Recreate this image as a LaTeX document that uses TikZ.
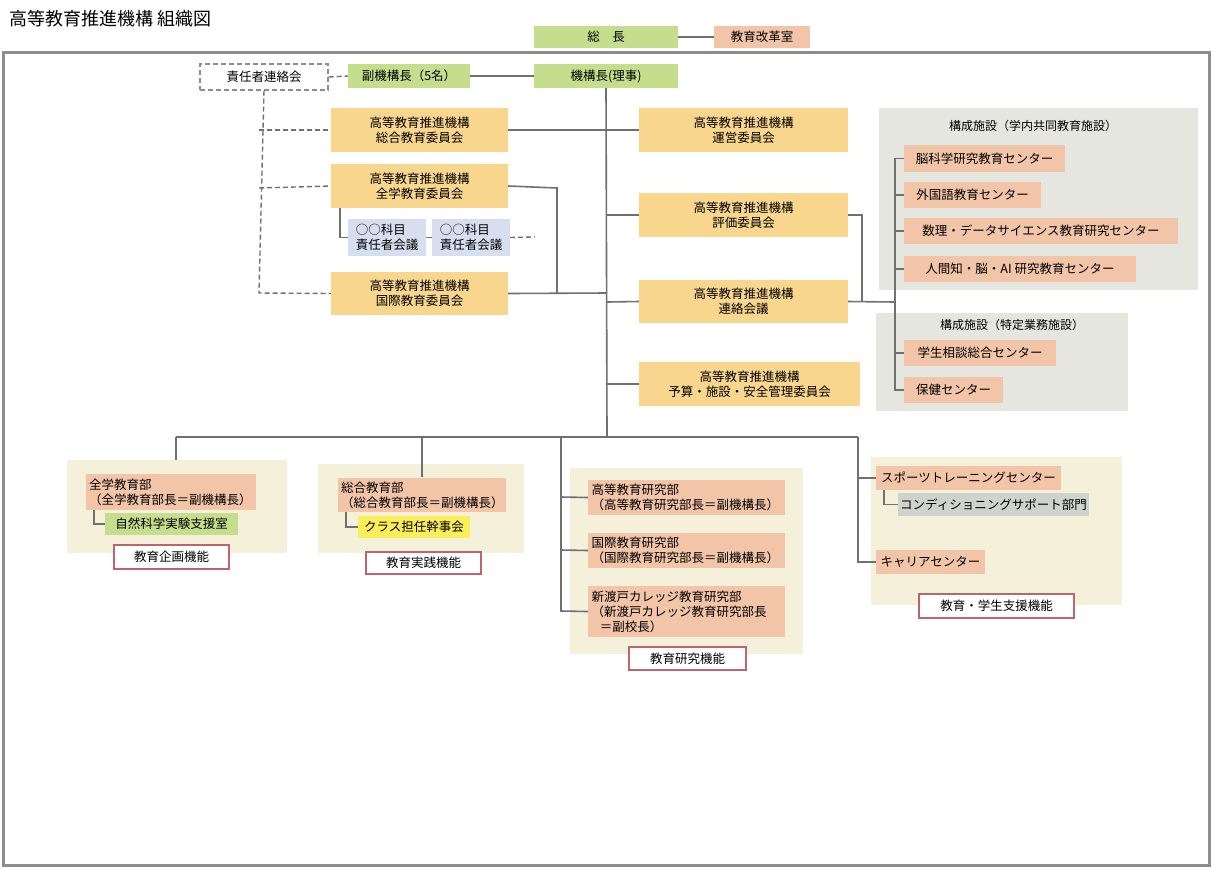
\documentclass[tikz,border=0pt]{standalone}
\usepackage{fontspec}
\setmainfont{Noto Sans CJK JP}
\begin{document}
\definecolor{cgreen}{RGB}{197,222,142}
\definecolor{corange}{RGB}{248,214,142}
\definecolor{csalmon}{RGB}{242,197,168}
\definecolor{cblue}{RGB}{214,222,240}
\definecolor{cgray}{RGB}{230,230,224}
\definecolor{ccream}{RGB}{245,240,218}
\definecolor{cyellow}{RGB}{250,238,90}
\definecolor{cgbox}{RGB}{208,210,206}
\definecolor{cline}{RGB}{112,112,112}
\definecolor{cmaroon}{RGB}{190,100,110}
\newcommand\R[7]{\node[#2, minimum width={#5pt-#3pt}, minimum height={#6pt-#4pt}, inner sep=0pt] (#1) at ({(#3+#5)/2},{(#4+#6)/2}) {#7};}
\begin{tikzpicture}[x=1pt,y=-1pt,
  every node/.style={font=\fontsize{12.5}{15}\selectfont},
  ln/.style={draw=cline, line width=1.6pt},
  dl/.style={draw=cline, line width=1.4pt, dashed, dash pattern=on 5pt off 3pt},
  gr/.style={fill=cgreen},
  og/.style={fill=corange, align=center},
  sa/.style={fill=csalmon},
  bl/.style={fill=cblue, align=left},
  lab/.style={draw=cmaroon, line width=1.2pt, fill=white},
  pan/.style={fill=cgray},
  cr/.style={fill=ccream}]
\useasboundingbox (0,0) rectangle (1212,868);
\fill[white] (0,0) rectangle (1212,868);
\node[anchor=west, font=\fontsize{18}{20}\selectfont] (title) at (6,19) {高等教育推進機構 組織図};
\draw[draw=cline!80, line width=3pt] (3,52) rectangle (1209,865);
% panels
\fill[pan] (879,108) rectangle (1198,290);
\fill[pan] (876,313) rectangle (1128,411);
\fill[cr] (67,460) rectangle (287,553);
\fill[cr] (318,464) rectangle (524,553);
\fill[cr] (570,468) rectangle (803,654);
\fill[cr] (871,457) rectangle (1122,605);
% top
\R{socho}{gr}{534}{26}{678}{48}{総\quad 長}
\R{kaikaku}{sa}{714}{26}{810}{48}{教育改革室}
\R{kiko}{gr}{534}{64}{678}{88}{機構長(理事)}
\R{fuku}{gr}{348}{64}{470}{88}{副機構長（5名）}
\R{sekinin}{draw=cline!80, line width=1.4pt, dash pattern=on 5pt off 3pt}{200}{64}{328}{90}{責任者連絡会}
\R{sogo}{og}{331}{108}{508}{152}{高等教育推進機構\\総合教育委員会}
\R{zengaku}{og}{331}{164}{508}{208}{高等教育推進機構\\全学教育委員会}
\R{kokusai}{og}{331}{272}{508}{315}{高等教育推進機構\\国際教育委員会}
\R{kamoku1}{bl}{348}{219}{426}{256}{○○科目\\責任者会議}
\R{kamoku2}{bl}{432}{219}{510}{256}{○○科目\\責任者会議}
\R{unei}{og}{639}{108}{848}{152}{高等教育推進機構\\運営委員会}
\R{hyoka}{og}{639}{193}{848}{237}{高等教育推進機構\\評価委員会}
\R{renraku}{og}{639}{280}{848}{323}{高等教育推進機構\\連絡会議}
\R{yosan}{og}{639}{362}{860}{406}{高等教育推進機構\\予算・施設・安全管理委員会}
% right panels
\node[font=\fontsize{12}{14}\selectfont] (p1t) at (1033,126) {構成施設（学内共同教育施設）};
\node[font=\fontsize{12}{14}\selectfont] (p2t) at (1012,325) {構成施設（特定業務施設）};
\R{nou}{sa}{904}{145}{1065}{172}{脳科学研究教育センター}
\R{gaikoku}{sa}{904}{182}{1041}{208}{外国語教育センター}
\R{suri}{sa}{904}{218}{1178}{244}{数理・データサイエンス教育研究センター}
\R{ningen}{sa}{904}{256}{1136}{282}{人間知・脳・AI 研究教育センター}
\R{gakusei}{sa}{904}{340}{1056}{366}{学生相談総合センター}
\R{hoken}{sa}{904}{377}{1003}{403}{保健センター}
% bottom
\R{zenbu}{sa, align=left, text width=164pt}{86}{474}{256}{510}{全学教育部\\（全学教育部長＝副機構長）}
\R{shizen}{gr}{105}{513}{238}{535}{自然科学実験支援室}
\R{lab1}{lab}{114}{545}{229}{569}{教育企画機能}
\R{sobu}{sa, align=left, text width=162pt}{338}{478}{506}{512}{総合教育部\\（総合教育部長＝副機構長）}
\R{class}{fill=cyellow}{358}{516}{470}{538}{クラス担任幹事会}
\R{lab2}{lab}{366}{552}{481}{574}{教育実践機能}
\R{koto}{sa, align=left, text width=190pt}{588}{480}{785}{515}{高等教育研究部\\（高等教育研究部長＝副機構長）}
\R{kokubu}{sa, align=left, text width=190pt}{588}{533}{785}{568}{国際教育研究部\\（国際教育研究部長＝副機構長）}
\R{nitobe}{sa, align=left, text width=190pt}{588}{586}{785}{637}{新渡戸カレッジ教育研究部\\（新渡戸カレッジ教育研究部長\\\ \ ＝副校長）}
\R{lab3}{lab}{629}{647}{746}{670}{教育研究機能}
\R{sports}{sa}{876}{466}{1061}{490}{スポーツトレーニングセンター}
\R{cond}{fill=cgbox}{898}{493}{1089}{516}{コンディショニングサポート部門}
\R{career}{sa}{876}{550}{985}{574}{キャリアセンター}
\R{lab4}{lab}{919}{594}{1074}{618}{教育・学生支援機能}
% coordinates
\coordinate (bus) at (607,437);
\coordinate (busL) at (176,437);
\coordinate (busR) at (858,437);
\coordinate (jz) at (557,188);
\coordinate (jk) at (557,293);
\coordinate (hv) at (862,302);
\coordinate (rv1) at (895,158);
\coordinate (rv2) at (895,390);
\coordinate (dd) at (535,237);
% connectors
\draw[ln] (socho) -- (kaikaku);
\draw[ln] (fuku) -- (kiko);
\draw[ln] (kiko.south) -- (bus);
\draw[ln] (busL) -- (busR);
\draw[ln] (sogo.east) -- (607,130);
\draw[ln] (zengaku.east) -- (jz) -- (jk);
\draw[ln] (kokusai.east) -- (607,293);
\draw[ln] (607,130) -- (unei.west);
\draw[ln] (607,215) -- (hyoka.west);
\draw[ln] (607,302) -- (renraku.west);
\draw[ln] (607,384) -- (yosan.west);
\draw[ln] (hyoka.east) -- (862,215) -- (hv);
\draw[ln] (renraku.east) -- (895,302);
\draw[ln] (rv1) -- (rv2);
\foreach \n in {nou,gaikoku,suri,ningen,gakusei}{\draw[ln] (895,0 |- \n.west) -- (\n.west);}
\draw[ln] (895,375) |- (hoken.west);
\draw[ln] (340,208) |- (kamoku1.west);
\draw[ln] (kamoku1.east) -- (kamoku2.west);
\draw[dl] (kamoku2.east) -- (dd);
\draw[dl] (sekinin.east) -- (fuku.west);
\draw[dl] (sekinin.south) -- (259,293) -- (kokusai.west);
\draw[dl] (259,130) -- (sogo.west);
\draw[dl] (259,188) -- (zengaku.west);
% bottom drops
\draw[ln] (busL) -- (176,460);
\draw[ln] (422,437) -- (422,477);
\draw[ln] (561,437) -- (561,611) -- (nitobe.west);
\draw[ln] (561,497) -- (koto.west);
\draw[ln] (561,550) -- (kokubu.west);
\draw[ln] (busR) -- (858,562) -- (career.west);
\draw[ln] (858,478) -- (sports.west);
\draw[ln] (884,490) |- (cond.west);
\draw[ln] (94,510) |- (shizen.west);
\draw[ln] (346,512) |- (class.west);
\end{tikzpicture}
\end{document}
